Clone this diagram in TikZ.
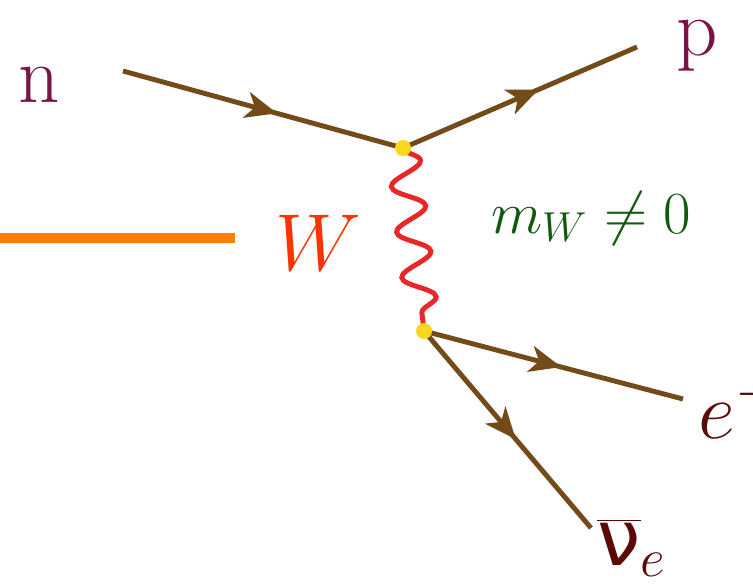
\RequirePackage{fix-cm}
\documentclass[tikz,border=0pt]{standalone}
\usepackage{fontspec}
\newfontfamily\nufont{DejaVu Sans}
\usetikzlibrary{arrows.meta, decorations.markings, decorations.pathmorphing}
\definecolor{fermbrown}{RGB}{115,75,25}
\definecolor{vtxyellow}{RGB}{250,215,30}
\definecolor{wavered}{RGB}{230,40,40}
\definecolor{wlabel}{RGB}{255,50,0}
\definecolor{barorange}{RGB}{255,128,0}
\definecolor{massgreen}{RGB}{15,90,15}
\definecolor{hadroncol}{RGB}{120,20,70}
\definecolor{leptoncol}{RGB}{90,10,10}
\tikzset{
  fermion/.style={line width=2.8pt, draw=fermbrown, postaction={decorate},
    decoration={markings, mark=at position #1 with
      {\arrow[fermbrown]{Stealth[length=18pt,width=15pt,inset=5pt]}}}},
  fermion/.default=0.55
}
\tikzset{
  boson/.style={line width=2.8pt, draw=wavered, decorate,
    decoration={snake, amplitude=0.32cm, segment length=0.915cm}},
  vertex/.style={circle, fill=vtxyellow, inner sep=0pt, minimum size=0.32cm}
}
\tikzset{
  bigtext/.style={inner sep=0pt, font=\fontsize{46}{50}\selectfont}
}

\begin{document}
\begin{tikzpicture}[x=0.02cm, y=-0.02cm]
  \useasboundingbox (0,0) rectangle (753,585);
  % vertices and free ends
  \coordinate (v1) at (403,148);
  \coordinate (v2) at (424,331);
  \coordinate (nin) at (123,71);
  \coordinate (pout) at (637,47);
  \coordinate (eout) at (683,399);
  \coordinate (nuout) at (591,528);
  \coordinate (bar l) at (0,238);
  \coordinate (bar r) at (235,238);

  \draw[line width=5.6pt, barorange] (bar l) -- (bar r);

  \draw[fermion] (nin) -- (v1);
  \draw[fermion=0.58] (v1) -- (pout);
  \draw[fermion=0.53] (v2) -- (eout);
  \draw[fermion=0.55] (v2) -- (nuout);
  \draw[boson] (v1) -- (v2);

  \node[vertex] (dot1) at (v1) {};
  \node[vertex] (dot2) at (v2) {};

  \node[bigtext, text=hadroncol, anchor=base] (lbl n) at (39,102) {n};
  \node[bigtext, text=hadroncol] (lbl p) at (697,46) {p};
  \node[bigtext, text=wlabel, anchor=base] (lbl w) at (318,270) {$W$};
  \node[bigtext, text=leptoncol, anchor=base west] (lbl e) at (698,438) {$e^{-}$};
  \node[bigtext, text=leptoncol, anchor=base west, font=\fontsize{44}{48}\selectfont]
    (lbl nu) at (597,565) {$\overline{\mbox{\nufont ν}}_{e}$};
  \node[inner sep=0pt, text=massgreen, anchor=base, font=\fontsize{34}{38}\selectfont]
    (lbl mass) at (591,233) {$m_{W} \neq 0$};
\end{tikzpicture}
\end{document}
